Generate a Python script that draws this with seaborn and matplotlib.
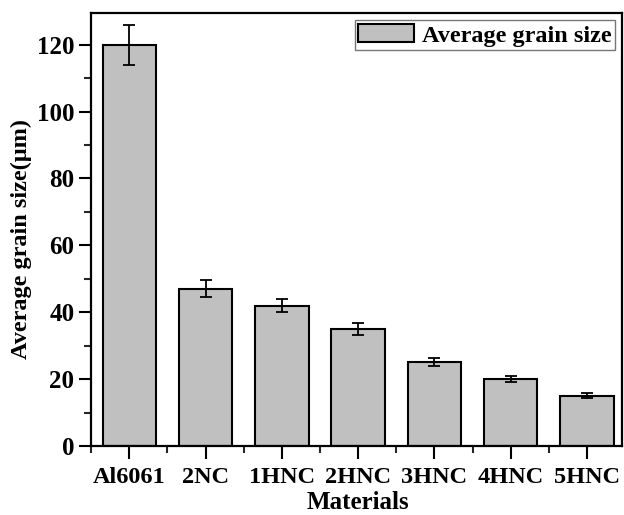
import matplotlib
matplotlib.use("Agg")
import matplotlib.pyplot as plt
import seaborn as sns
import pandas as pd
import numpy as np
from matplotlib.ticker import MultipleLocator, FixedLocator

categories = ["Al6061", "2NC", "1HNC", "2HNC", "3HNC", "4HNC", "5HNC"]
grain_size = [120, 47, 42, 35, 25, 20, 15]
grain_err = [6, 2.5, 2, 1.8, 1.2, 1.0, 0.7]

sns.set_theme(style="ticks")
plt.rcParams['font.family'] = ['Liberation Serif', 'DejaVu Serif']
plt.rcParams['font.weight'] = 'bold'
plt.rcParams['text.color'] = 'black'
plt.rcParams['axes.labelcolor'] = 'black'

df = pd.DataFrame({"Materials": categories, "size": grain_size})

fig = plt.figure(figsize=(6.24, 5.15), dpi=100)
ax = fig.add_axes([0.146, 0.134, 0.851, 0.841])

sns.barplot(data=df, x="Materials", y="size", ax=ax, color="#c0c0c0",
            saturation=1, width=0.7, edgecolor="black", linewidth=1.5,
            errorbar=None, label="Average grain size")
ax.errorbar(np.arange(len(categories)), grain_size, yerr=grain_err, fmt="none",
            ecolor="black", elinewidth=1.3, capsize=4, capthick=1.3)

ax.set_xlim(-0.5, 6.46)
ax.set_ylim(0, 129.5)
ax.yaxis.set_major_locator(MultipleLocator(20))
ax.yaxis.set_minor_locator(MultipleLocator(10))
ax.xaxis.set_minor_locator(FixedLocator(np.arange(-0.5, 7, 1.0)))

for s in ax.spines.values():
    s.set_linewidth(1.6)
    s.set_color("black")
ax.tick_params(axis="both", which="major", direction="out", length=9, width=1.5,
               colors="black")
ax.tick_params(axis="x", which="major", labelsize=17.5, pad=6)
ax.tick_params(axis="y", which="major", labelsize=18, pad=3)
ax.tick_params(axis="both", which="minor", direction="out", length=5, width=1.5)
for lab in ax.get_xticklabels() + ax.get_yticklabels():
    lab.set_fontweight("bold")

ax.set_xlabel("Materials", fontsize=18, fontweight="bold", color="black")
ax.set_ylabel("Average grain size(\u03bcm)", fontsize=17.5, fontweight="bold",
              color="black")
ax.xaxis.set_label_coords(0.503, -0.104)
ax.yaxis.set_label_coords(-0.111, 0.478)

leg = ax.legend(loc="upper right", fontsize=17.5, frameon=True, fancybox=False,
                edgecolor="#555555", borderpad=0.15, handlelength=2.3,
                handleheight=0.8, handletextpad=0.3, borderaxespad=0.3)
leg.get_frame().set_linewidth(1.0)
for t in leg.get_texts():
    t.set_fontweight("bold")

fig.savefig("out.png", dpi=100)
